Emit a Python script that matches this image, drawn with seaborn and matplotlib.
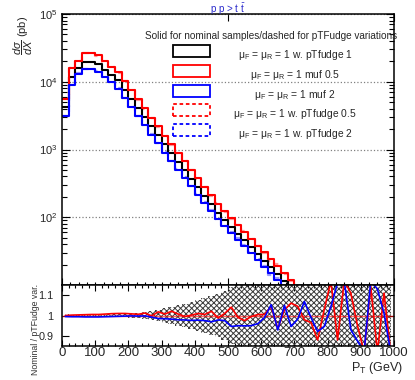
import numpy as np
import pandas as pd
import matplotlib
matplotlib.use('Agg')
import matplotlib.pyplot as plt
import matplotlib.ticker as mticker
from matplotlib.patches import Rectangle
import seaborn as sns

# 20 GeV bins from 0 to 1000
edges = np.arange(0, 1001, 20)
centers = edges[:-1] + 10

# dsigma/dX (pb) per bin, 0-720 GeV
nominal = [4270, 11700, 16200, 19500, 19500, 18200, 15100, 12600, 10500, 7600,
           5560, 4070, 3020, 2190, 1620, 1190, 880, 660, 495, 372,
           279, 209, 157, 117, 91.2, 72.4, 57.5, 45.7, 36.3, 28.8,
           22.9, 18.2, 14.5, 11.5, 9.1, 7.2]
muf05 = [5620, 15800, 20000, 26300, 26900, 24500, 20000, 16600, 13800, 10200,
         7500, 5500, 4070, 2950, 2190, 1600, 1190, 891, 668, 501,
         376, 282, 211, 158, 122, 96.6, 76.7, 60.3, 47.9, 38.0,
         30.2, 24.0, 19.1, 15.1, 12.0, 9.5]
muf2 = [3090, 8910, 13200, 15500, 15500, 14100, 11700, 9770, 7940, 5750,
        4220, 3090, 2290, 1660, 1230, 902, 668, 501, 380, 285,
        214, 162, 123, 93.3, 73.3, 58.2, 46.8, 37.2, 29.5, 23.4,
        18.6, 14.8, 11.7, 9.3, 7.4, 5.9]

# Nominal / pTFudge variation ratios (bottom panel), 50 bins
ratio_05 = [1.000, 1.002, 1.003, 1.004, 1.005, 1.005, 1.007, 1.009, 1.010, 1.010,
            1.008, 1.006, 1.012, 0.998, 1.018, 1.007, 1.021, 1.007, 0.995, 1.002,
            1.010, 1.005, 1.021, 0.988, 1.010, 1.041, 0.990, 0.975, 0.995, 1.005,
            1.005, 1.044, 0.935, 1.028, 1.061, 1.045, 0.979, 0.965, 0.880, 1.030,
            1.170, 0.880, 1.170, 1.110, 0.950, 0.820, 1.143, 0.820, 1.110, 0.820]
ratio_2 = [0.995, 0.994, 0.994, 0.993, 0.993, 0.993, 0.994, 0.995, 0.996, 0.997,
           0.998, 0.997, 0.998, 0.992, 0.985, 0.984, 0.982, 0.979, 0.978, 0.976,
           0.977, 0.975, 0.969, 0.978, 0.975, 0.946, 0.950, 0.949, 0.950, 0.960,
           0.990, 1.053, 0.929, 1.050, 0.946, 0.982, 1.069, 0.990, 0.921, 0.946,
           1.044, 1.160, 1.170, 0.930, 0.875, 0.820, 1.170, 1.130, 1.010, 0.820]
# half width of the hatched uncertainty band
band_err = [0.006, 0.004, 0.004, 0.004, 0.004, 0.005, 0.005, 0.006, 0.007, 0.008,
            0.010, 0.012, 0.015, 0.020, 0.027, 0.035, 0.042, 0.050, 0.058, 0.066,
            0.075, 0.085, 0.095, 0.105, 0.120, 0.140, 0.160, 0.200, 0.250, 0.250,
            0.250, 0.250, 0.250, 0.250, 0.250, 0.250, 0.250, 0.250, 0.250, 0.250,
            0.250, 0.250, 0.250, 0.250, 0.250, 0.250, 0.250, 0.250, 0.250, 0.250]

legend_header = "Solid for nominal samples/dashed for pTFudge variations"
legend_labels = ["μ$_\\mathregular{F}$ = μ$_\\mathregular{R}$ = 1 w. pTfudge 1",
                 "μ$_\\mathregular{F}$ = μ$_\\mathregular{R}$ = 1 muf 0.5",
                 "μ$_\\mathregular{F}$ = μ$_\\mathregular{R}$ = 1 muf 2",
                 "μ$_\\mathregular{F}$ = μ$_\\mathregular{R}$ = 1 w. pTfudge 0.5",
                 "μ$_\\mathregular{F}$ = μ$_\\mathregular{R}$ = 1 w. pTfudge 2"]
legend_colors = ['black', 'red', 'blue', 'red', 'blue']
legend_styles = ['-', '-', '-', (0, (2, 1.5)), (0, (2, 1.5))]

n = len(nominal)
hist_df = pd.DataFrame({
    'pt': centers[:n],
    'nominal': nominal,
    'muf05': muf05,
    'muf2': muf2,
    # pTfudge variations from the ratio definition (nominal / var)
    'pt05': np.array(muf05) / np.array(ratio_05[:n]),
    'pt2': np.array(muf2) / np.array(ratio_2[:n]),
})
ratio_df = pd.DataFrame({'pt': centers, 'r05': ratio_05, 'r2': ratio_2,
                         'err': band_err})

sns.set_style('ticks')
plt.rcParams['font.family'] = ['Liberation Sans', 'DejaVu Sans']
plt.rcParams['mathtext.fontset'] = 'custom'
plt.rcParams['mathtext.rm'] = 'Liberation Sans'
plt.rcParams['mathtext.it'] = 'Liberation Sans:italic'
plt.rcParams['mathtext.bf'] = 'Liberation Sans:bold'
plt.rcParams['hatch.linewidth'] = 0.7
plt.rcParams['hatch.color'] = '#3a3a3a'

fig = plt.figure(figsize=(4.15, 3.8), dpi=100)
ax = fig.add_axes([62 / 415, 1 - 285 / 380, 332 / 415, 271 / 380])
axr = fig.add_axes([62 / 415, 1 - 346 / 380, 332 / 415, 61 / 380])

hb = [float(e) for e in edges[:n + 1]]
# dashed pTfudge variants first (lighter), solid on top
for col, c, ls, lw, a in [('pt05', 'red', (0, (3, 2)), 1.6, 0.4),
                          ('pt2', 'blue', (0, (3, 2)), 1.6, 0.4),
                          ('nominal', 'black', '-', 1.5, 1.0),
                          ('muf05', 'red', '-', 1.5, 1.0),
                          ('muf2', 'blue', '-', 1.5, 1.0)]:
    sns.histplot(data=hist_df, x='pt', weights=col, bins=hb, element='step',
                 fill=False, color=c, linewidth=lw, linestyle=ls, alpha=a, ax=ax)

ax.set_yscale('log')
ax.set_ylim(10, 1e5)
ax.set_xlim(0, 1000)
ax.set_xlabel('')
ax.set_ylabel('')
ax.yaxis.set_major_locator(mticker.FixedLocator([1e2, 1e3, 1e4, 1e5]))
ax.yaxis.set_major_formatter(mticker.LogFormatterSciNotation())
ax.yaxis.set_minor_locator(mticker.LogLocator(base=10, subs=np.arange(2, 10)))
ax.yaxis.set_minor_formatter(mticker.NullFormatter())
ax.yaxis.grid(True, which='major', linestyle=':', color='gray', lw=0.9)
ax.xaxis.set_major_locator(mticker.MultipleLocator(500))
ax.xaxis.set_minor_locator(mticker.MultipleLocator(25))
ax.tick_params(axis='both', which='both', direction='in', top=True, right=True,
               labelbottom=False, color='black', width=0.8)
ax.tick_params(axis='y', which='major', length=6, labelsize=8, pad=3.5)
ax.tick_params(axis='y', which='minor', length=3.5)
ax.tick_params(axis='x', which='major', length=5)
ax.tick_params(axis='x', which='minor', length=2.5, top=False)
for s in ax.spines.values():
    s.set_linewidth(1.1)
    s.set_color('black')

fig.text(228 / 415, 1 - 9 / 380, 'p p > t $\\bar{\\mathregular{t}}$', color='#2a2acc',
         fontsize=7, ha='center', va='center')

# legend drawn like the ROOT one
ax.text(0.63, 0.92, legend_header, transform=ax.transAxes, ha='center', va='center',
        fontsize=7.2, clip_on=False)
row_y = [0.8635, 0.7897, 0.716, 0.6458, 0.572]
for yc, lab, c, st in zip(row_y, legend_labels, legend_colors, legend_styles):
    ax.add_patch(Rectangle((0.334, yc - 0.022), 0.111, 0.044, transform=ax.transAxes,
                           fill=False, edgecolor=c, lw=1.3, ls=st, clip_on=False))
    ax.text(0.702, yc - 0.014, lab, transform=ax.transAxes, ha='center', va='center',
            fontsize=7.4)

fig.text(23 / 415, 1 - 16 / 380, r'$\dfrac{d\sigma}{dX}$ (pb)', rotation=90,
         ha='center', va='top', fontsize=8)

# ratio panel
axr.fill_between(ratio_df['pt'], 1 - ratio_df['err'], 1 + ratio_df['err'], step='mid',
                 facecolor='none', hatch='xxxxxx', edgecolor='#3a3a3a', lw=0)
axr.axhline(1.0, color='red', lw=1.0, alpha=0.6)
sns.lineplot(data=ratio_df, x='pt', y='r05', color='red', lw=1.2, ax=axr)
sns.lineplot(data=ratio_df, x='pt', y='r2', color='blue', lw=1.2, ax=axr)
axr.set_xlim(0, 1000)
axr.set_ylim(0.85, 1.15)
axr.set_xlabel('')
axr.set_ylabel('')
axr.xaxis.set_major_locator(mticker.MultipleLocator(100))
axr.xaxis.set_minor_locator(mticker.MultipleLocator(20))
axr.yaxis.set_major_locator(mticker.FixedLocator([0.9, 1.0, 1.1]))
axr.yaxis.set_major_formatter(mticker.FixedFormatter(['0.9', '1', '1.1']))
axr.tick_params(axis='both', which='both', direction='in', top=True, right=True,
                color='black', width=0.8)
axr.tick_params(axis='x', which='major', length=4, labelsize=9.5, pad=1)
axr.tick_params(axis='x', which='minor', length=2)
axr.tick_params(axis='y', which='major', length=5, labelsize=7.8, pad=6)
for s in axr.spines.values():
    s.set_linewidth(1.1)
    s.set_color('black')

fig.text(403 / 415, 1 - 368 / 380, 'P$_\\mathregular{T}$ (GeV)', ha='right', va='center',
         fontsize=9)
fig.text(35 / 415, 1 - 284 / 380, 'Nominal / pTFudge var.', rotation=90,
         ha='center', va='top', fontsize=6.3, color='#333333')

fig.savefig('out.png', dpi=100)
